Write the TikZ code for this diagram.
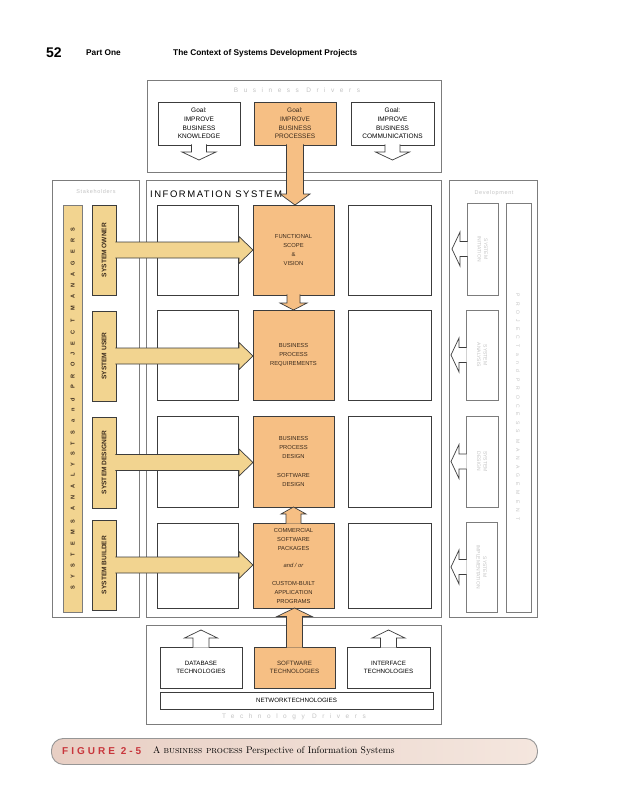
\documentclass[tikz,border=0pt]{standalone}
\usepackage{fontspec}
\newfontfamily\af{Liberation Sans}
\usetikzlibrary{calc}
\definecolor{org}{HTML}{F6BF84}
\definecolor{tanc}{HTML}{F2D490}
\definecolor{faint}{HTML}{C4C4C4}
\definecolor{capred}{HTML}{C8363C}
\definecolor{ln}{HTML}{3C3C3C}
\definecolor{frame}{HTML}{7C7C7C}
\definecolor{txtdk}{HTML}{3A2A1C}
\definecolor{capl}{HTML}{E8CFC4}
\definecolor{capr}{HTML}{F4E6DE}
\tikzset{
  frm/.style={draw=frame, line width=1pt, fill=white, anchor=north west, inner sep=0pt, outer sep=0pt},
  wbox/.style={draw=ln, line width=0.8pt, fill=white, anchor=north west, inner sep=0pt, outer sep=0pt},
  obox/.style={wbox, fill=org, text=txtdk},
  sbox/.style={wbox, fill=tanc, text=txtdk},
  fbox/.style={draw=frame, line width=0.8pt, fill=white, anchor=north west, inner sep=0pt, outer sep=0pt},
  gtxt/.style={font=\af\fontsize{6.5}{8.7}\selectfont, align=center},
  otxt/.style={font=\af\fontsize{5.8}{9}\selectfont, align=center},
  ttxt/.style={font=\af\fontsize{6.2}{8.3}\selectfont, align=center},
  vtxt/.style={font=\af\bfseries\fontsize{6.6}{7}\selectfont, text=txtdk, rotate=90, inner sep=0pt},
  flbl/.style={text=faint, inner sep=0pt, align=center},
  oarrow/.style={fill=org, draw=ln, line width=0.7pt},
  tarrow/.style={fill=tanc, draw=ln, line width=0.7pt},
  harrow/.style={fill=white, draw=ln, line width=0.7pt},
}
\newcommand\fatR[6]{\filldraw[#1] let \p1=(#2), \p2=(#3) in
  (\x1-0.6pt,\y1+#4) -- (\x2-#6,\y1+#4) -- (\x2-#6,\y1+#5) -- (\x2,\y1) --
  (\x2-#6,\y1-#5) -- (\x2-#6,\y1-#4) -- (\x1-0.6pt,\y1-#4);}
\newcommand\fatL[6]{\filldraw[#1] let \p1=(#2), \p2=(#3) in
  (\x1+0.6pt,\y1+#4) -- (\x2+#6,\y1+#4) -- (\x2+#6,\y1+#5) -- (\x2,\y1) --
  (\x2+#6,\y1-#5) -- (\x2+#6,\y1-#4) -- (\x1+0.6pt,\y1-#4);}
\newcommand\fatD[6]{\filldraw[#1] let \p1=(#2), \p2=(#3) in
  (\x1+#4,\y1+0.6pt) -- (\x1+#4,\y2+#6) -- (\x1+#5,\y2+#6) -- (\x1,\y2) --
  (\x1-#5,\y2+#6) -- (\x1-#4,\y2+#6) -- (\x1-#4,\y1+0.6pt);}
\newcommand\fatU[6]{\filldraw[#1] let \p1=(#2), \p2=(#3) in
  (\x1+#4,\y1-0.6pt) -- (\x1+#4,\y2-#6) -- (\x1+#5,\y2-#6) -- (\x1,\y2) --
  (\x1-#5,\y2-#6) -- (\x1-#4,\y2-#6) -- (\x1-#4,\y1-0.6pt);}
\begin{document}
\begin{tikzpicture}[x=1pt,y=-1pt]
\useasboundingbox (0,0) rectangle (619,800);
\fill[white] (0,0) rectangle (619,800);

% header
\node[anchor=base west, font=\af\bfseries\fontsize{14}{14}\selectfont, inner sep=0pt] (pg) at (46,57) {52};
\node[anchor=base west, font=\af\bfseries\fontsize{8.3}{9}\selectfont, inner sep=0pt] (part) at (86,56) {Part One};
\node[anchor=base west, font=\af\bfseries\fontsize{8.3}{9}\selectfont, inner sep=0pt] (title) at (173,56) {The Context of Systems Development Projects};

% frames
\node[frm, minimum width=294pt, minimum height=92pt] (bd) at (147,80) {};
\node[frm, minimum width=87pt, minimum height=437pt] (sh) at (52,180) {};
\node[frm, minimum width=295pt, minimum height=437pt] (is) at (146,180) {};
\node[frm, minimum width=88pt, minimum height=437pt] (rc) at (449,180) {};
\node[frm, minimum width=295pt, minimum height=99pt] (td) at (146,625) {};

% faint frame labels
\node[flbl, font=\af\fontsize{6.5}{7}\selectfont\addfontfeature{LetterSpace=85}] (bdl) at (297,90) {Business Drivers};
\node[flbl, font=\af\fontsize{6.5}{7}\selectfont\addfontfeature{LetterSpace=85}] (tdl) at (294,717) {Technology Drivers};
\node[flbl, font=\af\fontsize{5.5}{6}\selectfont\addfontfeature{LetterSpace=12}] (shl) at (96,192) {Stakeholders};
\node[flbl, font=\af\fontsize{5.5}{6}\selectfont\addfontfeature{LetterSpace=12}] (rcl) at (494,193) {Development};

% goals
\node[wbox, gtxt, minimum width=82pt, minimum height=43pt] (g1) at (158,102) {Goal:\\IMPROVE\\BUSINESS\\KNOWLEDGE};
\node[obox, gtxt, minimum width=82pt, minimum height=43pt] (g2) at (254,102) {Goal:\\IMPROVE\\BUSINESS\\PROCESSES};
\node[wbox, gtxt, minimum width=83pt, minimum height=43pt] (g3) at (351,102) {Goal:\\IMPROVE\\BUSINESS\\COMMUNICATIONS};

% information system label
\node[anchor=west, inner sep=0pt, font=\af\fontsize{9.5}{10}\selectfont\addfontfeature{LetterSpace=16}] (isl) at (150,194) {INFORMATION SYSTEM};

% stakeholders column
\node[sbox, draw=frame, minimum width=19pt, minimum height=407pt] (bar) at (63,205) {};
\node[vtxt, font=\af\bfseries\fontsize{5.6}{6}\selectfont\addfontfeature{LetterSpace=128}] (barT) at (bar.center) {SYSTEMS ANALYSTS and PROJECT MANAGERS};
\node[sbox, minimum width=24pt, minimum height=90pt] (so) at (92,205) {};
\node[sbox, minimum width=24pt, minimum height=90pt] (su) at (92,311) {};
\node[sbox, minimum width=24pt, minimum height=91pt] (sd) at (92,417) {};
\node[sbox, minimum width=24pt, minimum height=90pt] (sb) at (92,520) {};
\node[vtxt] (soT) at (so.center) {SYSTEM OWNER};
\node[vtxt] (suT) at (su.center) {SYSTEM USER};
\node[vtxt] (sdT) at (sd.center) {SYSTEM DESIGNER};
\node[vtxt] (sbT) at (sb.center) {SYSTEM BUILDER};

% information system cells
\node[wbox, minimum width=81pt, minimum height=90pt] (k1) at (157,205) {};
\node[wbox, minimum width=81pt, minimum height=90pt] (k2) at (157,310) {};
\node[wbox, minimum width=81pt, minimum height=91pt] (k3) at (157,416) {};
\node[wbox, minimum width=81pt, minimum height=85pt] (k4) at (157,523) {};
\node[wbox, minimum width=83pt, minimum height=90pt] (c1) at (348,205) {};
\node[wbox, minimum width=83pt, minimum height=90pt] (c2) at (348,310) {};
\node[wbox, minimum width=83pt, minimum height=91pt] (c3) at (348,416) {};
\node[wbox, minimum width=83pt, minimum height=85pt] (c4) at (348,523) {};
\node[obox, otxt, minimum width=81pt, minimum height=90pt] (f1) at (253,205) {FUNCTIONAL\\SCOPE\\\&\\VISION};
\node[obox, otxt, minimum width=81pt, minimum height=90pt] (f2) at (253,310) {BUSINESS\\PROCESS\\REQUIREMENTS};
\node[obox, otxt, minimum width=81pt, minimum height=91pt] (f3) at (253,416) {BUSINESS\\PROCESS\\DESIGN\\[9.5pt]SOFTWARE\\DESIGN};
\node[obox, otxt, minimum width=81pt, minimum height=85pt] (f4) at (253,523) {COMMERCIAL\\SOFTWARE\\PACKAGES\\[8.5pt]{\itshape and / or}\\[8.5pt]CUSTOM-BUILT\\APPLICATION\\PROGRAMS};

% right column
\node[fbox, minimum width=31pt, minimum height=92pt] (r1) at (467,203) {};
\node[fbox, minimum width=32pt, minimum height=90pt] (r2) at (466,310) {};
\node[fbox, minimum width=32pt, minimum height=91pt] (r3) at (466,416) {};
\node[fbox, minimum width=31pt, minimum height=90pt] (r4) at (466,522) {};
\node[fbox, minimum width=25pt, minimum height=409pt] (pm) at (506,203) {};
\node[flbl, rotate=-90, font=\af\fontsize{5}{6.5}\selectfont] (r1T) at (r1.center) {SYSTEM\\INITIATION};
\node[flbl, rotate=-90, font=\af\fontsize{5}{6.5}\selectfont] (r2T) at (r2.center) {SYSTEM\\ANALYSIS};
\node[flbl, rotate=-90, font=\af\fontsize{5}{6.5}\selectfont] (r3T) at (r3.center) {SYSTEM\\DESIGN};
\node[flbl, rotate=-90, font=\af\fontsize{5}{6.5}\selectfont] (r4T) at (r4.center) {SYSTEM\\IMPLEMENTATION};
\node[flbl, rotate=-90, font=\af\fontsize{5}{6}\selectfont\addfontfeature{LetterSpace=100}] (pmT) at (518,407) {PROJECT and PROCESS MANAGEMENT};

% technology drivers
\node[wbox, ttxt, minimum width=82pt, minimum height=41pt] (db) at (160,647) {DATABASE\\TECHNOLOGIES};
\node[obox, ttxt, minimum width=81pt, minimum height=41pt] (sw) at (254,647) {SOFTWARE\\TECHNOLOGIES};
\node[wbox, ttxt, minimum width=83pt, minimum height=41pt] (if) at (347,647) {INTERFACE\\TECHNOLOGIES};
\node[wbox, ttxt, minimum width=273pt, minimum height=17pt] (net) at (160,692) {NETWORKTECHNOLOGIES};

% free arrow ends
\coordinate (g1t) at (199,160);
\coordinate (g3t) at (392.5,160);
\coordinate (dbt) at (201,630);
\coordinate (ift) at (388.5,630);
\coordinate (r1t) at (452,249);
\coordinate (r2t) at (451,355);
\coordinate (r3t) at (451,461);
\coordinate (r4t) at (451,567);

% arrows
\fatD{harrow}{g1.south}{g1t}{7.5pt}{17pt}{8pt}
\fatD{harrow}{g3.south}{g3t}{7.5pt}{17pt}{8pt}
\fatU{harrow}{db.north}{dbt}{8pt}{16.5pt}{8pt}
\fatU{harrow}{if.north}{ift}{8pt}{16.5pt}{8pt}
\fatL{harrow}{r1.west}{r1t}{7.5pt}{17pt}{8pt}
\fatL{harrow}{r2.west}{r2t}{7.5pt}{17pt}{8pt}
\fatL{harrow}{r3.west}{r3t}{7.5pt}{17pt}{8pt}
\fatL{harrow}{r4.west}{r4t}{7.5pt}{17pt}{8pt}
\fatD{oarrow}{g2.south}{f1.north}{8.5pt}{15pt}{11pt}
\fatD{oarrow}{f1.south}{f2.north}{6.5pt}{13.5pt}{7pt}
\fatU{oarrow}{f4.north}{f3.south}{7.5pt}{12.5pt}{7pt}
\fatU{oarrow}{sw.north}{f4.south}{8pt}{17.5pt}{8.5pt}
\fatR{tarrow}{so.east}{f1.west}{8pt}{13.5pt}{14pt}
\fatR{tarrow}{su.east}{f2.west}{8pt}{13.5pt}{14pt}
\fatR{tarrow}{sd.east}{f3.west}{8pt}{13.5pt}{14pt}
\fatR{tarrow}{sb.east}{f4.west}{8pt}{13.5pt}{14pt}

% caption
\node[anchor=north west, minimum width=486pt, minimum height=26pt, rounded corners=12pt, draw=frame!80, line width=0.9pt, left color=capl, right color=capr, inner sep=0pt] (cap) at (51,738) {};
\node[anchor=west, inner sep=0pt, text=capred, font=\af\bfseries\fontsize{10}{10}\selectfont\addfontfeature{LetterSpace=30}] (fig) at (62,751) {FIGURE 2-5};
\node[anchor=west, inner sep=0pt, font=\fontsize{9.6}{10}\selectfont] (capt) at (153,751) {A \textsc{business process} Perspective of Information Systems};
\end{tikzpicture}
\end{document}
